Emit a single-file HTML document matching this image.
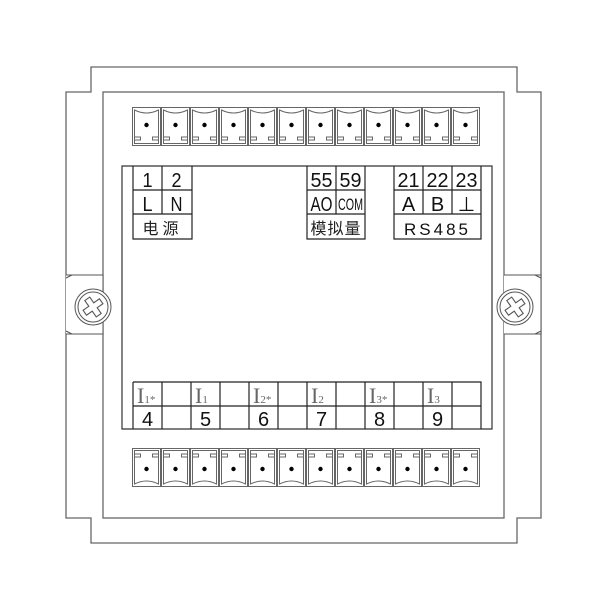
<!DOCTYPE html>
<html><head><meta charset="utf-8"><style>html,body{margin:0;padding:0;background:#fff}svg{display:block}</style></head><body>
<svg width="600" height="600" viewBox="0 0 600 600" xmlns="http://www.w3.org/2000/svg">
<defs>
<g id="tt">
<rect x="0.5" y="0.5" width="28" height="38" fill="none" stroke="#666" stroke-width="1"/>
<path d="M2.5 3 V36.5 H26.5 V3 Q14.5 9 2.5 3 Z" fill="none" stroke="#666" stroke-width="1"/>
<path d="M2.5 30 H8.5 V33 H2.5 M26.5 30 H20.5 V33 H26.5" fill="none" stroke="#666" stroke-width="1"/>
<circle cx="14.5" cy="18" r="2.2" fill="#000"/>
</g>
</defs>
<g fill="none" stroke="#666" stroke-width="1.3">
<path d="M91 92 V67 H517 V92 H541 V518 H517 V543 H91 V518 H66 V92 Z"/>
<rect x="103" y="92" width="401" height="426"/>
</g>
<g fill="#fff" stroke="#555" stroke-width="1">
<path d="M66 275 H103 V334 H66"/>
<path d="M66 278 L72 275 M66 331 L72 334"/>
<circle cx="93" cy="307" r="18"/><circle cx="93" cy="307" r="15"/>
<path d="M504 275 H541 V334 H504"/>
<path d="M541 278 L535 275 M541 331 L535 334"/>
<circle cx="515" cy="307" r="18"/><circle cx="515" cy="307" r="15"/>
</g>
<g fill="none" stroke="#555" stroke-width="1.1">
<path transform="translate(93 307) rotate(-35)" d="M-3 -10 H3 V-3 H10 V3 H3 V10 H-3 V3 H-10 V-3 H-3 Z"/>
<path transform="translate(515 307) rotate(-35)" d="M-3 -10 H3 V-3 H10 V3 H3 V10 H-3 V3 H-10 V-3 H-3 Z"/>
</g>
<g>
<use href="#tt" x="132" y="107"/><use href="#tt" x="161" y="107"/><use href="#tt" x="190" y="107"/><use href="#tt" x="219" y="107"/><use href="#tt" x="248" y="107"/><use href="#tt" x="277" y="107"/><use href="#tt" x="306" y="107"/><use href="#tt" x="335" y="107"/><use href="#tt" x="364" y="107"/><use href="#tt" x="393" y="107"/><use href="#tt" x="422" y="107"/><use href="#tt" x="451" y="107"/>
</g>
<g transform="translate(0 594) scale(1 -1)">
<use href="#tt" x="132" y="107"/><use href="#tt" x="161" y="107"/><use href="#tt" x="190" y="107"/><use href="#tt" x="219" y="107"/><use href="#tt" x="248" y="107"/><use href="#tt" x="277" y="107"/><use href="#tt" x="306" y="107"/><use href="#tt" x="335" y="107"/><use href="#tt" x="364" y="107"/><use href="#tt" x="393" y="107"/><use href="#tt" x="422" y="107"/><use href="#tt" x="451" y="107"/>
</g>
<g fill="none" stroke="#222" stroke-width="1.2">
<path d="M122 166 H492 V429 H122 Z" stroke="#333"/>
<path d="M133 166 V239 H192 V166 M133 190 H192 M133 214 H192 M162 166 V214"/>
<path d="M307 166 V239 H365 V166 M307 190 H365 M307 214 H365 M336 166 V214"/>
<path d="M394 166 V239 H481 V166 M394 190 H481 M394 214 H481 M423 166 V214 M452 166 V214"/>
<path d="M133 382 H481 V429 M133 382 V429 M133 406 H481 M162 382V429 M191 382V429 M220 382V429 M249 382V429 M278 382V429 M307 382V429 M336 382V429 M365 382V429 M394 382V429 M423 382V429 M452 382V429"/>
</g>
<g font-family="Liberation Sans, sans-serif" font-size="20" fill="#111" text-anchor="middle">
<text x="147.5" y="187" textLength="10" lengthAdjust="spacingAndGlyphs">1</text><text x="176.5" y="187" textLength="10" lengthAdjust="spacingAndGlyphs">2</text>
<text x="147.5" y="211" textLength="10" lengthAdjust="spacingAndGlyphs">L</text><text x="176.5" y="211" textLength="12" lengthAdjust="spacingAndGlyphs">N</text>
<text x="321.5" y="187" textLength="22" lengthAdjust="spacingAndGlyphs">55</text>
<text x="350.5" y="187" textLength="22" lengthAdjust="spacingAndGlyphs">59</text>
<text x="321.5" y="211" textLength="22" lengthAdjust="spacingAndGlyphs">AO</text>
<text x="350.5" y="210" font-size="17" textLength="25" lengthAdjust="spacingAndGlyphs">COM</text>
<text x="408.5" y="187" textLength="22" lengthAdjust="spacingAndGlyphs">21</text>
<text x="437.5" y="187" textLength="22" lengthAdjust="spacingAndGlyphs">22</text>
<text x="466.5" y="187" textLength="22" lengthAdjust="spacingAndGlyphs">23</text>
<text x="408.5" y="211">A</text><text x="437.5" y="211">B</text><text x="466.5" y="211">⊥</text>
<text x="437.5" y="235" font-size="17" letter-spacing="3">RS485</text>
<text x="147.5" y="426">4</text><text x="205.5" y="426">5</text><text x="263.5" y="426">6</text>
<text x="321.5" y="426">7</text><text x="379.5" y="426">8</text><text x="437.5" y="426">9</text>
</g>
<g font-family="Liberation Sans, 'Noto Sans CJK SC', sans-serif" font-size="16" fill="#222" text-anchor="middle">
<text x="162.5" y="234" letter-spacing="4">电源</text>
<text x="336" y="234" letter-spacing="1">模拟量</text>
</g>
<g font-family="Liberation Serif, serif" fill="#666">
<text x="137" y="403" font-size="22">I<tspan font-size="11">1*</tspan></text>
<text x="195" y="403" font-size="22">I<tspan font-size="11">1</tspan></text>
<text x="253" y="403" font-size="22">I<tspan font-size="11">2*</tspan></text>
<text x="311" y="403" font-size="22">I<tspan font-size="11">2</tspan></text>
<text x="369" y="403" font-size="22">I<tspan font-size="11">3*</tspan></text>
<text x="427" y="403" font-size="22">I<tspan font-size="11">3</tspan></text>
</g>
</svg>
</body></html>
